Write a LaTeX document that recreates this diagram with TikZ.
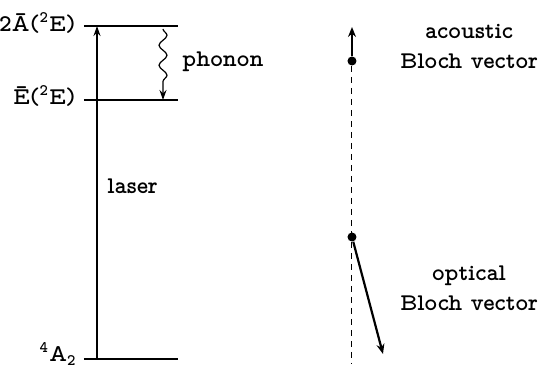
\documentclass[tikz,border=0pt]{standalone}
\usetikzlibrary{arrows.meta, decorations.pathmorphing}

\begin{document}
\begin{tikzpicture}[
x=0.5pt, y=-0.5pt,
font=\fontfamily{lmvtt}\fontsize{12}{15}\selectfont\bfseries,
lbl/.style={inner sep=0pt},
level/.style={line width=0.8pt},
arrow/.style={-{Stealth[length=5pt, width=3.5pt]}, line width=0.6pt},
vector/.style={-{Stealth[length=5pt, width=4pt]}, line width=1.1pt},
wave/.style={arrow, decorate, decoration={snake, amplitude=2pt, segment length=10pt, post length=5pt}},
dot/.style={circle, fill, inner sep=0pt, minimum size=4.5pt},
axis/.style={line width=0.5pt, dash pattern=on 3pt off 2.5pt}
]
\useasboundingbox (0,0) rectangle (543,368);

% Energy levels
\coordinate (upL) at (84,26);  \coordinate (upR) at (178,26);
\coordinate (midL) at (84,100); \coordinate (midR) at (178,100);
\coordinate (lowL) at (84,359); \coordinate (lowR) at (178,359);
\draw[level] (upL) -- (upR);
\draw[level] (midL) -- (midR);
\draw[level] (lowL) -- (lowR);

% Level labels
\node[lbl, anchor=east] (upname) at (76,23) {2\={A}(\textsuperscript{2}E)};
\node[lbl, anchor=east] (midname) at (76,96) {\={E}(\textsuperscript{2}E)};
\node[lbl, anchor=east] (lowname) at (77,354) {\textsuperscript{4}A\textsubscript{2}};

% Laser excitation
\coordinate (laserlow) at (97,359);
\coordinate (laserup) at (97,26);
\draw[arrow] (laserlow) -- node[lbl, pos=0.52, right=5pt] (laser) {laser} (laserup);

% Phonon relaxation
\coordinate (phtop) at (163,29);
\coordinate (phbot) at (163,100);
\draw[wave] (phtop) -- (phbot);
\node[lbl, anchor=west] (phonon) at (182,62) {phonon};

% Bloch vectors
\node[dot] (acdot) at (352,61) {};
\node[dot] (opdot) at (352,237) {};
\coordinate (actip) at (352,27);
\coordinate (optip) at (383,354);
\coordinate (axisend) at (352,364);
\draw[axis] (acdot) -- (axisend);
\draw[vector] (acdot) -- (actip);
\draw[vector] (opdot) -- (optip);

\node[align=center] (aclabel) at (469,46) {acoustic\\Bloch vector};
\node[align=center] (oplabel) at (469,288) {optical\\Bloch vector};

\end{tikzpicture}
\end{document}
